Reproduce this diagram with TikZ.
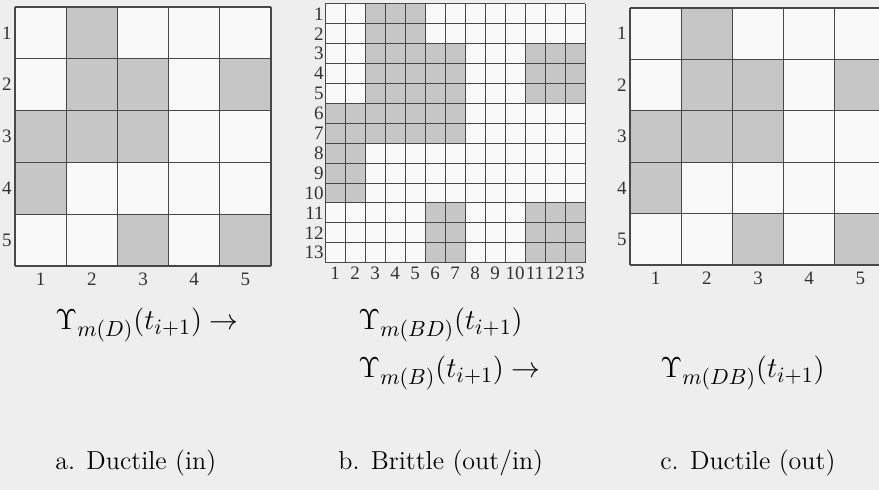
\documentclass[tikz,border=0pt]{standalone}
\usepackage{fontspec}
\newfontfamily\cifras{Liberation Serif}
\definecolor{Fondo}{RGB}{238,238,238}
\definecolor{Celda}{RGB}{249,249,249}
\definecolor{Sombra}{RGB}{198,198,198}
\definecolor{Linea}{RGB}{72,72,72}
\tikzset{
  celda/.style={fill=Sombra},
  rejilla/.style={draw=Linea, line width=0.6pt},
  cifra/.style={font=\cifras\fontsize{9.5}{10}\selectfont, inner sep=1.5pt, text=black!80},
  formula/.style={font=\fontsize{15}{18}\selectfont, anchor=west, inner sep=0pt},
  pie/.style={font=\fontsize{13}{15}\selectfont, anchor=west, inner sep=0pt}
}

\begin{document}
\begin{tikzpicture}[x=0.5pt, y=-0.5pt]
  \fill[Fondo] (0,0) rectangle (879,490);
  \useasboundingbox (0,0) rectangle (879,490);

  % a. ductile (in)
  \begin{scope}[shift={(15,7)}, x=25.6pt, y=-25.9pt]
    \fill[Celda] (0,0) rectangle (5,5);
    \foreach \r/\c in {1/2, 2/2, 2/3, 2/5, 3/1, 3/2, 3/3, 4/1, 5/3, 5/5}
      \fill[celda] (\c-1,\r-1) rectangle (\c,\r);
    \foreach \k in {0,...,5} {
      \draw[rejilla] (\k,0) -- (\k,5);
      \draw[rejilla] (0,\k) -- (5,\k);
    }
    \foreach \i in {1,...,5} {
      \node[cifra, left] (fa\i) at (0,\i-0.5) {\i};
      \node[cifra, below=2pt] (ca\i) at (\i-0.5,5) {\i};
    }
  \end{scope}

  % b. brittle (out/in)
  \begin{scope}[shift={(325,4)}, x=10pt, y=-9.95pt]
    \fill[Celda] (0,0) rectangle (13,13);
    \foreach \ra/\ca/\rb/\cb in {1/3/2/5, 3/3/7/7, 6/1/10/2, 3/11/5/13, 11/6/13/7, 11/11/13/13}
      \fill[celda] (\ca-1,\ra-1) rectangle (\cb,\rb);
    \foreach \k in {0,...,13} {
      \draw[rejilla, line width=0.5pt] (\k,0) -- (\k,13);
      \draw[rejilla, line width=0.5pt] (0,\k) -- (13,\k);
    }
    \foreach \i in {1,...,13} {
      \node[cifra, left, inner sep=0.5pt] (fb\i) at (0,\i-0.5) {\i};
      \node[cifra, below=2pt, inner sep=0pt] (cb\i) at (\i-0.5,13) {\i};
    }
  \end{scope}

  % c. ductile (out)
  \begin{scope}[shift={(630,8)}, x=25.6pt, y=-25.7pt]
    \fill[Celda] (0,0) rectangle (5,5);
    \foreach \r/\c in {1/2, 2/2, 2/3, 2/5, 3/1, 3/2, 3/3, 4/1, 5/3, 5/5}
      \fill[celda] (\c-1,\r-1) rectangle (\c,\r);
    \foreach \k in {0,...,5} {
      \draw[rejilla] (\k,0) -- (\k,5);
      \draw[rejilla] (0,\k) -- (5,\k);
    }
    \foreach \i in {1,...,5} {
      \node[cifra, left] (fc\i) at (0,\i-0.5) {\i};
      \node[cifra, below=2pt] (cc\i) at (\i-0.5,5) {\i};
    }
  \end{scope}

  \node[formula] (ups_d) at (55,325) {$\Upsilon_{m(D)}(t_{i+1}) \rightarrow$};
  \node[formula] (ups_bd) at (358,325) {$\Upsilon_{m(BD)}(t_{i+1})$};
  \node[formula] (ups_b) at (358,373) {$\Upsilon_{m(B)}(t_{i+1}) \rightarrow$};
  \node[formula] (ups_db) at (660,373) {$\Upsilon_{m(DB)}(t_{i+1})$};

  \node[pie] (pie_a) at (55,463) {a. Ductile (in)};
  \node[pie] (pie_b) at (338,463) {b. Brittle (out/in)};
  \node[pie] (pie_c) at (660,463) {c. Ductile (out)};
\end{tikzpicture}
\end{document}
